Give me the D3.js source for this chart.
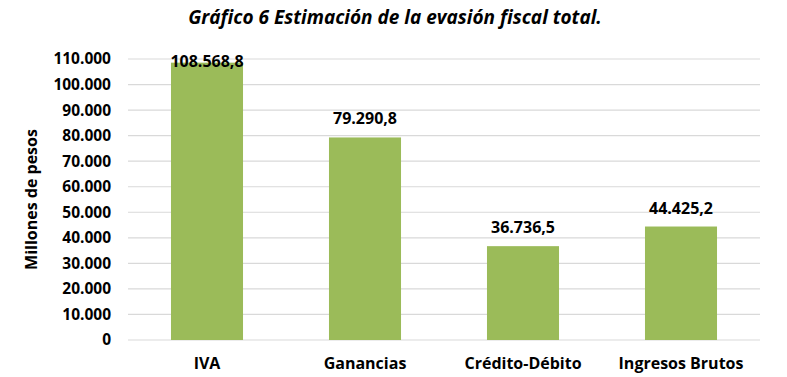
<!DOCTYPE html>
<html><head><meta charset="utf-8">
<script src="https://cdn.jsdelivr.net/npm/d3@7"></script>
<style>body{margin:0;background:#fff}svg{display:block}</style>
</head><body>
<script>
const categories = ["IVA","Ganancias","Crédito-Débito","Ingresos Brutos"];
const values = [108568.8, 79290.8, 36736.5, 44425.2];
const valueLabels = ["108.568,8","79.290,8","36.736,5","44.425,2"];
const yTicks = [0,10000,20000,30000,40000,50000,60000,70000,80000,90000,100000,110000];
const title = "Gráfico 6 Estimación de la evasión fiscal total.";
const yTitle = "Millones de pesos";

(function(){
const W=787,H=377;
const FONT="'Open Sans',sans-serif";
const svg=d3.select("body").append("svg").attr("width",W).attr("height",H);
const mLeft=128,mRight=760,mTop=59,mBottom=340;
const x=d3.scaleBand().domain(categories).range([mLeft,mRight]).paddingInner(0.544).paddingOuter(0.272);
const y=d3.scaleLinear().domain([0,110000]).range([mBottom,mTop]);
const fmt=v=>v===0?"0":d3.format(",")(v).replace(/,/g,".");

svg.append("g").selectAll("line").data(yTicks).join("line")
 .attr("x1",mLeft).attr("x2",mRight).attr("y1",d=>y(d)).attr("y2",d=>y(d))
 .attr("stroke","#d9d9d9").attr("stroke-width",1.2);

const ya=svg.append("g").attr("transform",`translate(${mLeft-17},0)`)
 .call(d3.axisLeft(y).tickValues(yTicks).tickFormat(fmt).tickSize(0).tickPadding(0));
ya.select(".domain").remove();
ya.selectAll("text").attr("font-size",15.5).attr("font-weight","bold").attr("fill","#000")
 .style("font-family",FONT);

svg.append("g").selectAll("rect").data(values).join("rect")
 .attr("x",(d,i)=>x(categories[i])).attr("width",x.bandwidth())
 .attr("y",d=>y(d)).attr("height",d=>mBottom-y(d)).attr("fill","#9bbb59");

svg.append("g").selectAll("text").data(values).join("text")
 .attr("x",(d,i)=>x(categories[i])+x.bandwidth()/2).attr("y",d=>Math.max(y(d)-13,mTop+8))
 .attr("text-anchor","middle").attr("font-size",16).attr("font-weight","bold")
 .style("font-family",FONT)
 .text((d,i)=>valueLabels[i]);

const xa=svg.append("g").attr("transform",`translate(0,${mBottom})`)
 .call(d3.axisBottom(x).tickSize(0).tickPadding(18));
xa.select(".domain").remove();
xa.selectAll("text").attr("font-size",16).attr("font-weight","bold").attr("fill","#000")
 .style("font-family",FONT);

svg.append("text").attr("transform",`translate(37,${(mTop+mBottom)/2}) rotate(-90)`)
 .attr("text-anchor","middle").attr("font-size",16).attr("font-weight","bold")
 .style("font-family",FONT).text(yTitle);

svg.append("text").attr("x",395).attr("y",24).attr("text-anchor","middle")
 .attr("font-size",19).attr("font-weight","bold").attr("font-style","italic")
 .style("font-family",FONT).text(title);
})();
</script>
</body></html>
